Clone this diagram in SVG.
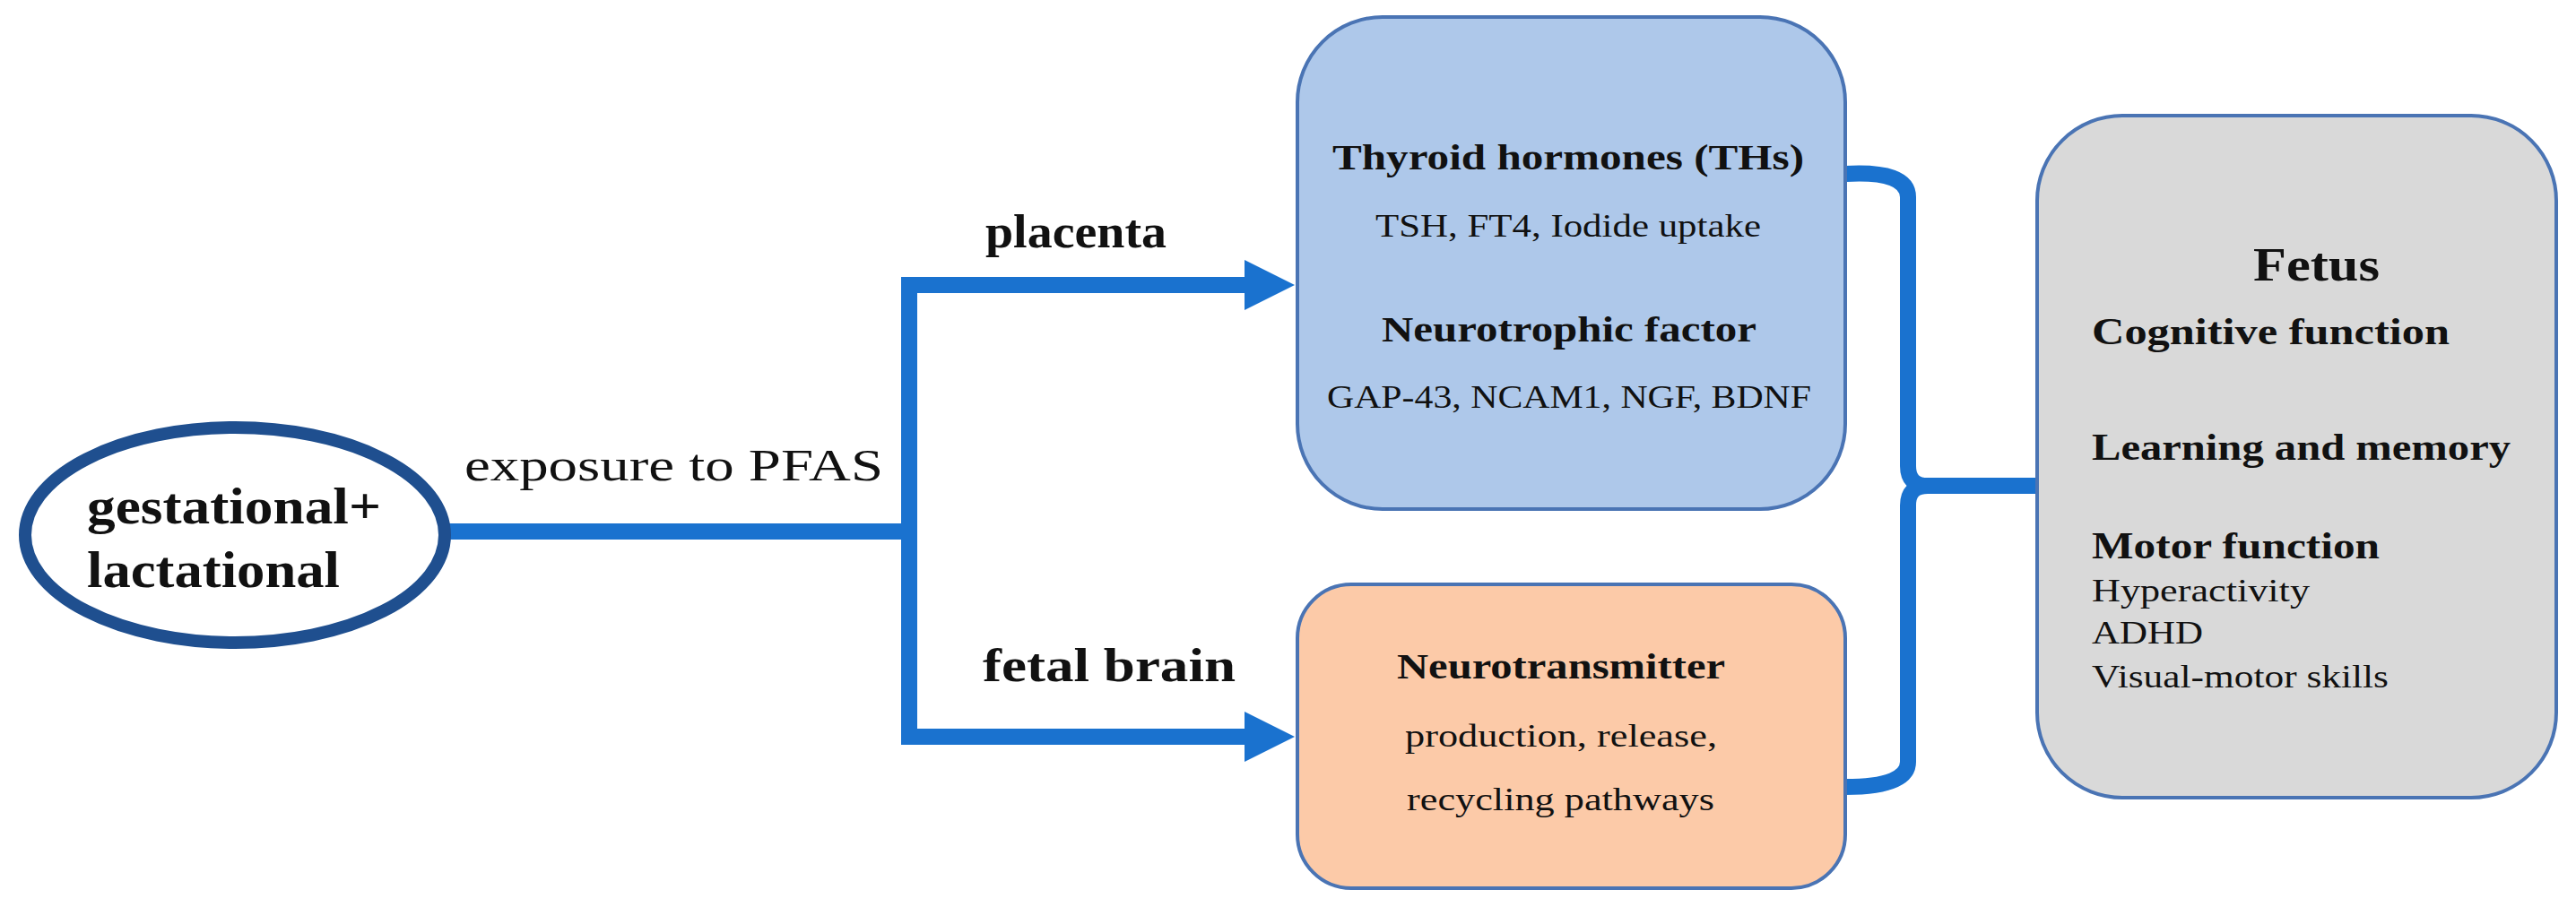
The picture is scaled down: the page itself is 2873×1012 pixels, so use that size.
<svg xmlns="http://www.w3.org/2000/svg" width="2873" height="1012" viewBox="0 0 2873 1012">
<style>
text{font-family:"Liberation Serif","DejaVu Serif",serif;fill:#111}
.b{font-weight:bold}
.box{stroke:#4a74b4;stroke-width:4}
.ln{fill:none;stroke:#1a72cf;stroke-width:18}
</style>
<defs><marker id="ah" markerUnits="userSpaceOnUse" markerWidth="60" markerHeight="60" refX="0" refY="28" orient="auto"><path d="M0,0 L56,28 L0,56 Z" fill="#1a72cf"/></marker></defs>
<rect width="2873" height="1012" fill="#fff"/>
<g id="connectors">
<path class="ln" d="M500,593 H1014"/>
<path class="ln" d="M1014,318 V822"/>
<path class="ln" d="M1005,318 H1388" marker-end="url(#ah)"/>
<path class="ln" d="M1005,822 H1388" marker-end="url(#ah)"/>
<path class="ln" stroke-width="14" d="M2058,194 Q2128,190 2128,220 V520 Q2128,542 2150,542 H2272 M2150,542 Q2128,542 2128,564 V850 Q2128,878 2058,878"/>
<text x="518" y="536" font-size="50" textLength="467" lengthAdjust="spacingAndGlyphs">exposure to PFAS</text>
<text class="b" x="1099" y="276" font-size="52" textLength="202" lengthAdjust="spacingAndGlyphs">placenta</text>
<text class="b" x="1096" y="760" font-size="52" textLength="282" lengthAdjust="spacingAndGlyphs">fetal brain</text>
</g>
<g id="source">
<ellipse cx="262" cy="597" rx="234" ry="120" fill="#fff" stroke="#1f4f8f" stroke-width="14"/>
<text class="b" x="97" y="584" font-size="56" textLength="328" lengthAdjust="spacingAndGlyphs">gestational+</text>
<text class="b" x="97" y="655" font-size="56" textLength="282" lengthAdjust="spacingAndGlyphs">lactational</text>
</g>
<g id="placenta-box">
<rect class="box" x="1447" y="19" width="611" height="549" rx="95" fill="#aec8ea"/>
<text class="b" x="1486" y="189" font-size="40" textLength="526" lengthAdjust="spacingAndGlyphs">Thyroid hormones (THs)</text>
<text x="1534" y="264" font-size="36" textLength="430" lengthAdjust="spacingAndGlyphs">TSH, FT4, Iodide uptake</text>
<text class="b" x="1541" y="381" font-size="40" textLength="418" lengthAdjust="spacingAndGlyphs">Neurotrophic factor</text>
<text x="1480" y="455" font-size="36" textLength="540" lengthAdjust="spacingAndGlyphs">GAP-43, NCAM1, NGF, BDNF</text>
</g>
<g id="brain-box">
<rect class="box" x="1447" y="652" width="611" height="339" rx="60" fill="#fccaa8"/>
<text class="b" x="1558" y="757" font-size="40" textLength="366" lengthAdjust="spacingAndGlyphs">Neurotransmitter</text>
<text x="1567" y="833" font-size="36" textLength="348" lengthAdjust="spacingAndGlyphs">production, release,</text>
<text x="1569" y="904" font-size="36" textLength="343" lengthAdjust="spacingAndGlyphs">recycling pathways</text>
</g>
<g id="fetus-box">
<rect class="box" x="2272" y="129" width="579" height="761" rx="95" fill="#d9d9d9"/>
<text class="b" x="2513" y="313" font-size="52" textLength="141" lengthAdjust="spacingAndGlyphs">Fetus</text>
<text class="b" x="2333" y="384" font-size="42" textLength="399" lengthAdjust="spacingAndGlyphs">Cognitive function</text>
<text class="b" x="2333" y="513" font-size="42" textLength="467" lengthAdjust="spacingAndGlyphs">Learning and memory</text>
<text class="b" x="2333" y="623" font-size="42" textLength="321" lengthAdjust="spacingAndGlyphs">Motor function</text>
<text x="2333" y="671" font-size="36" textLength="243" lengthAdjust="spacingAndGlyphs">Hyperactivity</text>
<text x="2333" y="718" font-size="36" textLength="124" lengthAdjust="spacingAndGlyphs">ADHD</text>
<text x="2333" y="767" font-size="36" textLength="331" lengthAdjust="spacingAndGlyphs">Visual-motor skills</text>
</g>
</svg>
